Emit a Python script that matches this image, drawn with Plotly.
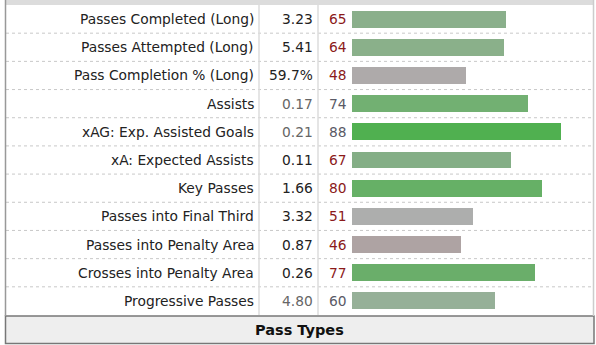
import plotly.graph_objects as go

# ---- data ----
stats = ["Passes Completed (Long)", "Passes Attempted (Long)", "Pass Completion % (Long)",
         "Assists", "xAG: Exp. Assisted Goals", "xA: Expected Assists", "Key Passes",
         "Passes into Final Third", "Passes into Penalty Area", "Crosses into Penalty Area",
         "Progressive Passes"]
per90 = ["3.23", "5.41", "59.7%", "0.17", "0.21", "0.11", "1.66", "3.32", "0.87", "0.26", "4.80"]
percentiles = [65, 64, 48, 74, 88, 67, 80, 51, 46, 77, 60]
bar_colors = ["#8aaf8b", "#8ab08a", "#aeaaaa", "#72b072", "#50b050", "#84ae86",
              "#66b066", "#adaead", "#aea3a3", "#6aae6a", "#96b098"]
value_gray = [False, False, False, True, True, False, False, False, False, False, True]
pct_gray = [False, False, False, True, True, False, False, False, False, False, True]
footer = "Pass Types"

W, H = 596, 345
def px(x): return x / W
def py(y): return (H - y) / H

top, bottom = 5, 315
n = len(stats)
rows = list(range(n))

fig = go.Figure()
fig.add_trace(go.Bar(
    x=percentiles, y=rows, orientation="h", width=0.6,
    marker=dict(color=bar_colors, line=dict(width=0)),
    hoverinfo="skip", showlegend=False))

font = "DejaVu Sans, Verdana, sans-serif"
fs = 13.8
ann = []
for i in rows:
    ann.append(dict(x=px(256), y=i, xref="paper", yref="y", text=stats[i],
                    xanchor="right", yanchor="middle", showarrow=False,
                    font=dict(family=font, size=fs, color="#222")))
    ann.append(dict(x=px(315), y=i, xref="paper", yref="y", text=per90[i],
                    xanchor="right", yanchor="middle", showarrow=False,
                    font=dict(family=font, size=fs, color="#666" if value_gray[i] else "#222")))
    ann.append(dict(x=px(327), y=i, xref="paper", yref="y", text=str(percentiles[i]),
                    xanchor="left", yanchor="middle", showarrow=False,
                    font=dict(family=font, size=fs, color="#5a5a66" if pct_gray[i] else "#8b1a1a")))
ann.append(dict(x=px(299), y=py(330), xref="paper", yref="paper", text="<b>" + footer + "</b>",
                xanchor="center", yanchor="middle", showarrow=False,
                font=dict(family=font, size=14.5, color="#111")))

shapes = []
# top band
shapes.append(dict(type="rect", xref="paper", yref="paper", x0=px(5), x1=px(594), y0=py(0), y1=py(5),
                   fillcolor="#dcdcdc", line=dict(width=0), layer="below"))
# row separators (dotted)
for i in range(n - 1):
    shapes.append(dict(type="line", xref="paper", yref="y", x0=px(6), x1=px(593), y0=i + 0.5, y1=i + 0.5,
                       line=dict(color="#c8c8c8", width=1, dash="dot"), layer="below"))
# column separators
for xc in (259, 318):
    shapes.append(dict(type="line", xref="paper", yref="paper", x0=px(xc), x1=px(xc), y0=py(5), y1=py(315),
                       line=dict(color="#dddddd", width=1.5), layer="below"))
# left / right borders
shapes.append(dict(type="line", xref="paper", yref="paper", x0=px(5.5), x1=px(5.5), y0=py(0), y1=py(316),
                   line=dict(color="#999999", width=1.5)))
shapes.append(dict(type="line", xref="paper", yref="paper", x0=px(593.5), x1=px(593.5), y0=py(0), y1=py(316),
                   line=dict(color="#cccccc", width=1.5)))
# footer box
shapes.append(dict(type="rect", xref="paper", yref="paper", x0=px(5.5), x1=px(594), y0=py(316), y1=py(343.5),
                   fillcolor="#eeeeee", line=dict(color="#777777", width=1.5), layer="below"))

fig.update_layout(
    width=W, height=H, margin=dict(l=0, r=0, t=0, b=0),
    paper_bgcolor="white", plot_bgcolor="rgba(0,0,0,0)",
    xaxis=dict(domain=[px(352), px(589.5)], range=[0, 100], visible=False, fixedrange=True),
    yaxis=dict(domain=[py(bottom), py(top)], range=[n - 0.5, -0.5], visible=False, fixedrange=True),
    annotations=ann, shapes=shapes, bargap=0,
)
fig.write_html("out.html")
